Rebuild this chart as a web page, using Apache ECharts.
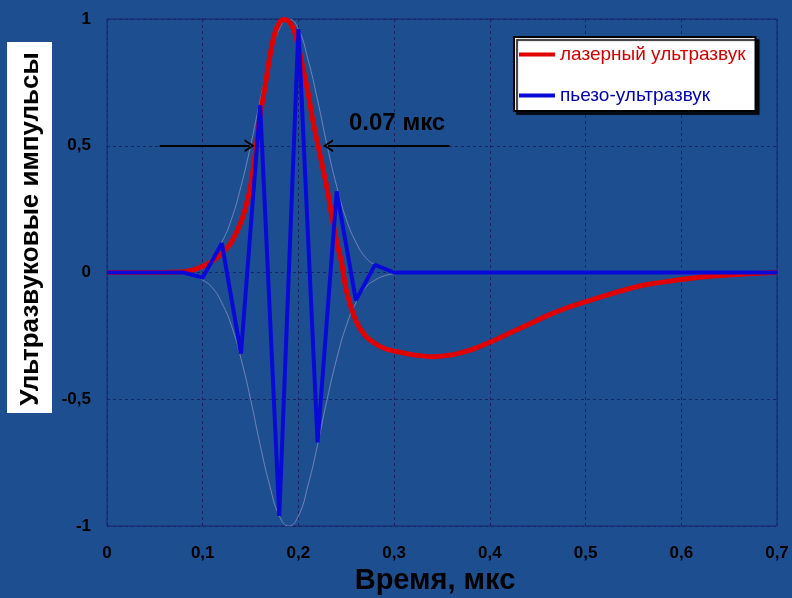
<!DOCTYPE html>
<html>
<head>
<meta charset="utf-8">
<script src="https://cdn.jsdelivr.net/npm/echarts@6/dist/echarts.min.js"></script>
<style>
    html, body { margin: 0; padding: 0; background: #1d4f90; }
    #chart { width: 792px; height: 598px; }
</style>
</head>
<body>
<div id="chart"></div>
<script>
// лазерный ультразвук
const laserT = [0, 0.05, 0.08, 0.09, 0.10, 0.11, 0.12, 0.13, 0.14, 0.145, 0.15, 0.155, 0.16, 0.165, 0.17, 0.175,
    0.18, 0.185, 0.19, 0.195, 0.20, 0.205, 0.21, 0.215, 0.22, 0.225, 0.23, 0.235, 0.24, 0.245, 0.25, 0.26, 0.27,
    0.28, 0.29, 0.30, 0.32, 0.34, 0.36, 0.38, 0.40, 0.42, 0.44, 0.46, 0.48, 0.50, 0.53, 0.56, 0.60, 0.63, 0.67, 0.70];
const laserV = [0, 0, 0.003, 0.01, 0.025, 0.045, 0.075, 0.12, 0.2, 0.26, 0.34, 0.47, 0.62, 0.73, 0.85, 0.94,
    0.985, 0.998, 0.99, 0.96, 0.89, 0.8, 0.71, 0.6, 0.51, 0.42, 0.33, 0.22, 0.12, 0.04, -0.07, -0.19, -0.25,
    -0.28, -0.3, -0.31, -0.325, -0.332, -0.325, -0.305, -0.275, -0.24, -0.205, -0.17, -0.14, -0.115, -0.08, -0.05, -0.028, -0.015, -0.005, 0];

// пьезо-ультразвук
const piezoT = [0, 0.06, 0.08, 0.10, 0.12, 0.14, 0.16, 0.18, 0.20, 0.22, 0.24, 0.26, 0.28, 0.30, 0.70];
const piezoV = [0, 0, 0, -0.02, 0.115, -0.32, 0.66, -0.96, 0.96, -0.67, 0.32, -0.11, 0.03, 0, 0];

// огибающая
const envT = [0.06, 0.07, 0.08, 0.09, 0.10, 0.11, 0.12, 0.13, 0.14, 0.15, 0.16, 0.17, 0.18, 0.19,
    0.20, 0.21, 0.22, 0.23, 0.24, 0.25, 0.26, 0.27, 0.28, 0.29, 0.30, 0.31, 0.32];
const envV = [0, 0.002, 0.005, 0.013, 0.03, 0.06, 0.12, 0.21, 0.34, 0.5, 0.68, 0.84, 0.96, 1,
    0.96, 0.84, 0.68, 0.5, 0.34, 0.21, 0.12, 0.06, 0.03, 0.013, 0.005, 0.002, 0];

const xTicks = ['0', '0,1', '0,2', '0,3', '0,4', '0,5', '0,6', '0,7'];

const pairs = (t, v) => t.map((x, i) => [x, v[i]]);
const neg = v => v.map(y => -y);

const eChart = echarts.init(document.getElementById('chart'));
const labelFont = {
    color: '#000',
    fontSize: 17,
    fontWeight: 'bold',
    fontFamily: 'Liberation Sans, Arial'
};
const option = {
    backgroundColor: '#1d4f90',
    animation: false,
    grid: {
        left: 107,
        right: 15,
        top: 19,
        bottom: 72,
        outerBoundsMode: 'none',
        show: true,
        borderColor: '#1a2470',
        borderWidth: 1
    },
    legend: {
        left: 514,
        top: 37,
        orient: 'vertical',
        backgroundColor: '#fff',
        borderColor: '#000',
        borderWidth: 2,
        borderRadius: 0,
        shadowColor: 'rgba(0,0,0,0.8)',
        shadowOffsetX: 3,
        shadowOffsetY: 3,
        shadowBlur: 1,
        padding: [8, 10, 6, 5],
        itemGap: 22,
        itemWidth: 36,
        itemHeight: 4,
        icon: 'rect',
        textStyle: { fontSize: 19, fontFamily: 'Liberation Sans, Arial' },
        data: [
            { name: 'лазерный ультразвук', textStyle: { color: '#d40000' } },
            { name: 'пьезо-ультразвук', textStyle: { color: '#0000b0' } }
        ]
    },
    xAxis: {
        type: 'value',
        min: 0,
        max: 0.7,
        interval: 0.1,
        name: 'Время, мкс',
        nameLocation: 'middle',
        nameGap: 40,
        nameTextStyle: {
            color: '#000',
            fontSize: 29,
            fontWeight: 'bold',
            fontFamily: 'Liberation Sans, Arial',
            padding: [0, 14, 0, 0]
        },
        axisLine: { show: false },
        axisTick: { show: false },
        axisLabel: Object.assign({
            margin: 19,
            formatter: (v) => xTicks[Math.round(v * 10)]
        }, labelFont),
        splitLine: { show: true, lineStyle: { color: '#1a2465', type: [3, 3], width: 1 } }
    },
    yAxis: {
        type: 'value',
        min: -1,
        max: 1,
        interval: 0.5,
        axisLine: { show: false },
        axisTick: { show: false },
        axisLabel: Object.assign({
            margin: 16,
            formatter: (v) => String(v).replace('.', ',')
        }, labelFont),
        splitLine: { show: true, lineStyle: { color: '#1a2465', type: [3, 3], width: 1 } }
    },
    graphic: [
        {
            type: 'rect',
            shape: { x: 7, y: 42, width: 45, height: 371 },
            style: { fill: '#fff' }
        },
        {
            type: 'text',
            x: 31,
            y: 229,
            rotation: Math.PI / 2,
            style: {
                text: 'Ультразвуковые импульсы',
                font: 'bold 26px "Liberation Sans", Arial',
                fill: '#000',
                align: 'center',
                verticalAlign: 'middle'
            }
        },
        {
            type: 'text',
            x: 349,
            y: 123,
            style: {
                text: '0.07 мкс',
                font: 'bold 24px "Liberation Sans", Arial',
                fill: '#000',
                align: 'left',
                verticalAlign: 'middle'
            }
        }
    ],
    series: [
        {
            name: 'огибающая+',
            type: 'line',
            data: pairs(envT, envV),
            smooth: true,
            showSymbol: false,
            lineStyle: { color: '#7282bb', width: 1 },
            silent: true,
            z: 1
        },
        {
            name: 'огибающая-',
            type: 'line',
            data: pairs(envT, neg(envV)),
            smooth: true,
            showSymbol: false,
            lineStyle: { color: '#7282bb', width: 1 },
            silent: true,
            z: 1
        },
        {
            name: 'лазерный ультразвук',
            type: 'line',
            data: pairs(laserT, laserV),
            smooth: 0.3,
            showSymbol: false,
            itemStyle: { color: '#e00000' },
            lineStyle: { color: '#e00000', width: 5 },
            z: 2,
            markLine: {
                silent: true,
                symbol: ['none', 'path://M0,12 L6,0 L12,12 L10,12 L6,4 L2,12 Z'],
                symbolSize: [13, 10],
                label: { show: false },
                lineStyle: { color: '#000', width: 2, type: 'solid' },
                data: [
                    [{ coord: [0.055, 0.5] }, { coord: [0.149, 0.5] }],
                    [{ coord: [0.358, 0.5] }, { coord: [0.231, 0.5] }]
                ]
            }
        },
        {
            name: 'пьезо-ультразвук',
            type: 'line',
            data: pairs(piezoT, piezoV),
            showSymbol: false,
            itemStyle: { color: '#0a0ad8' },
            lineStyle: { color: '#0a0ad8', width: 4 },
            z: 3
        }
    ]
};
eChart.setOption(option);
</script>
</body>
</html>
